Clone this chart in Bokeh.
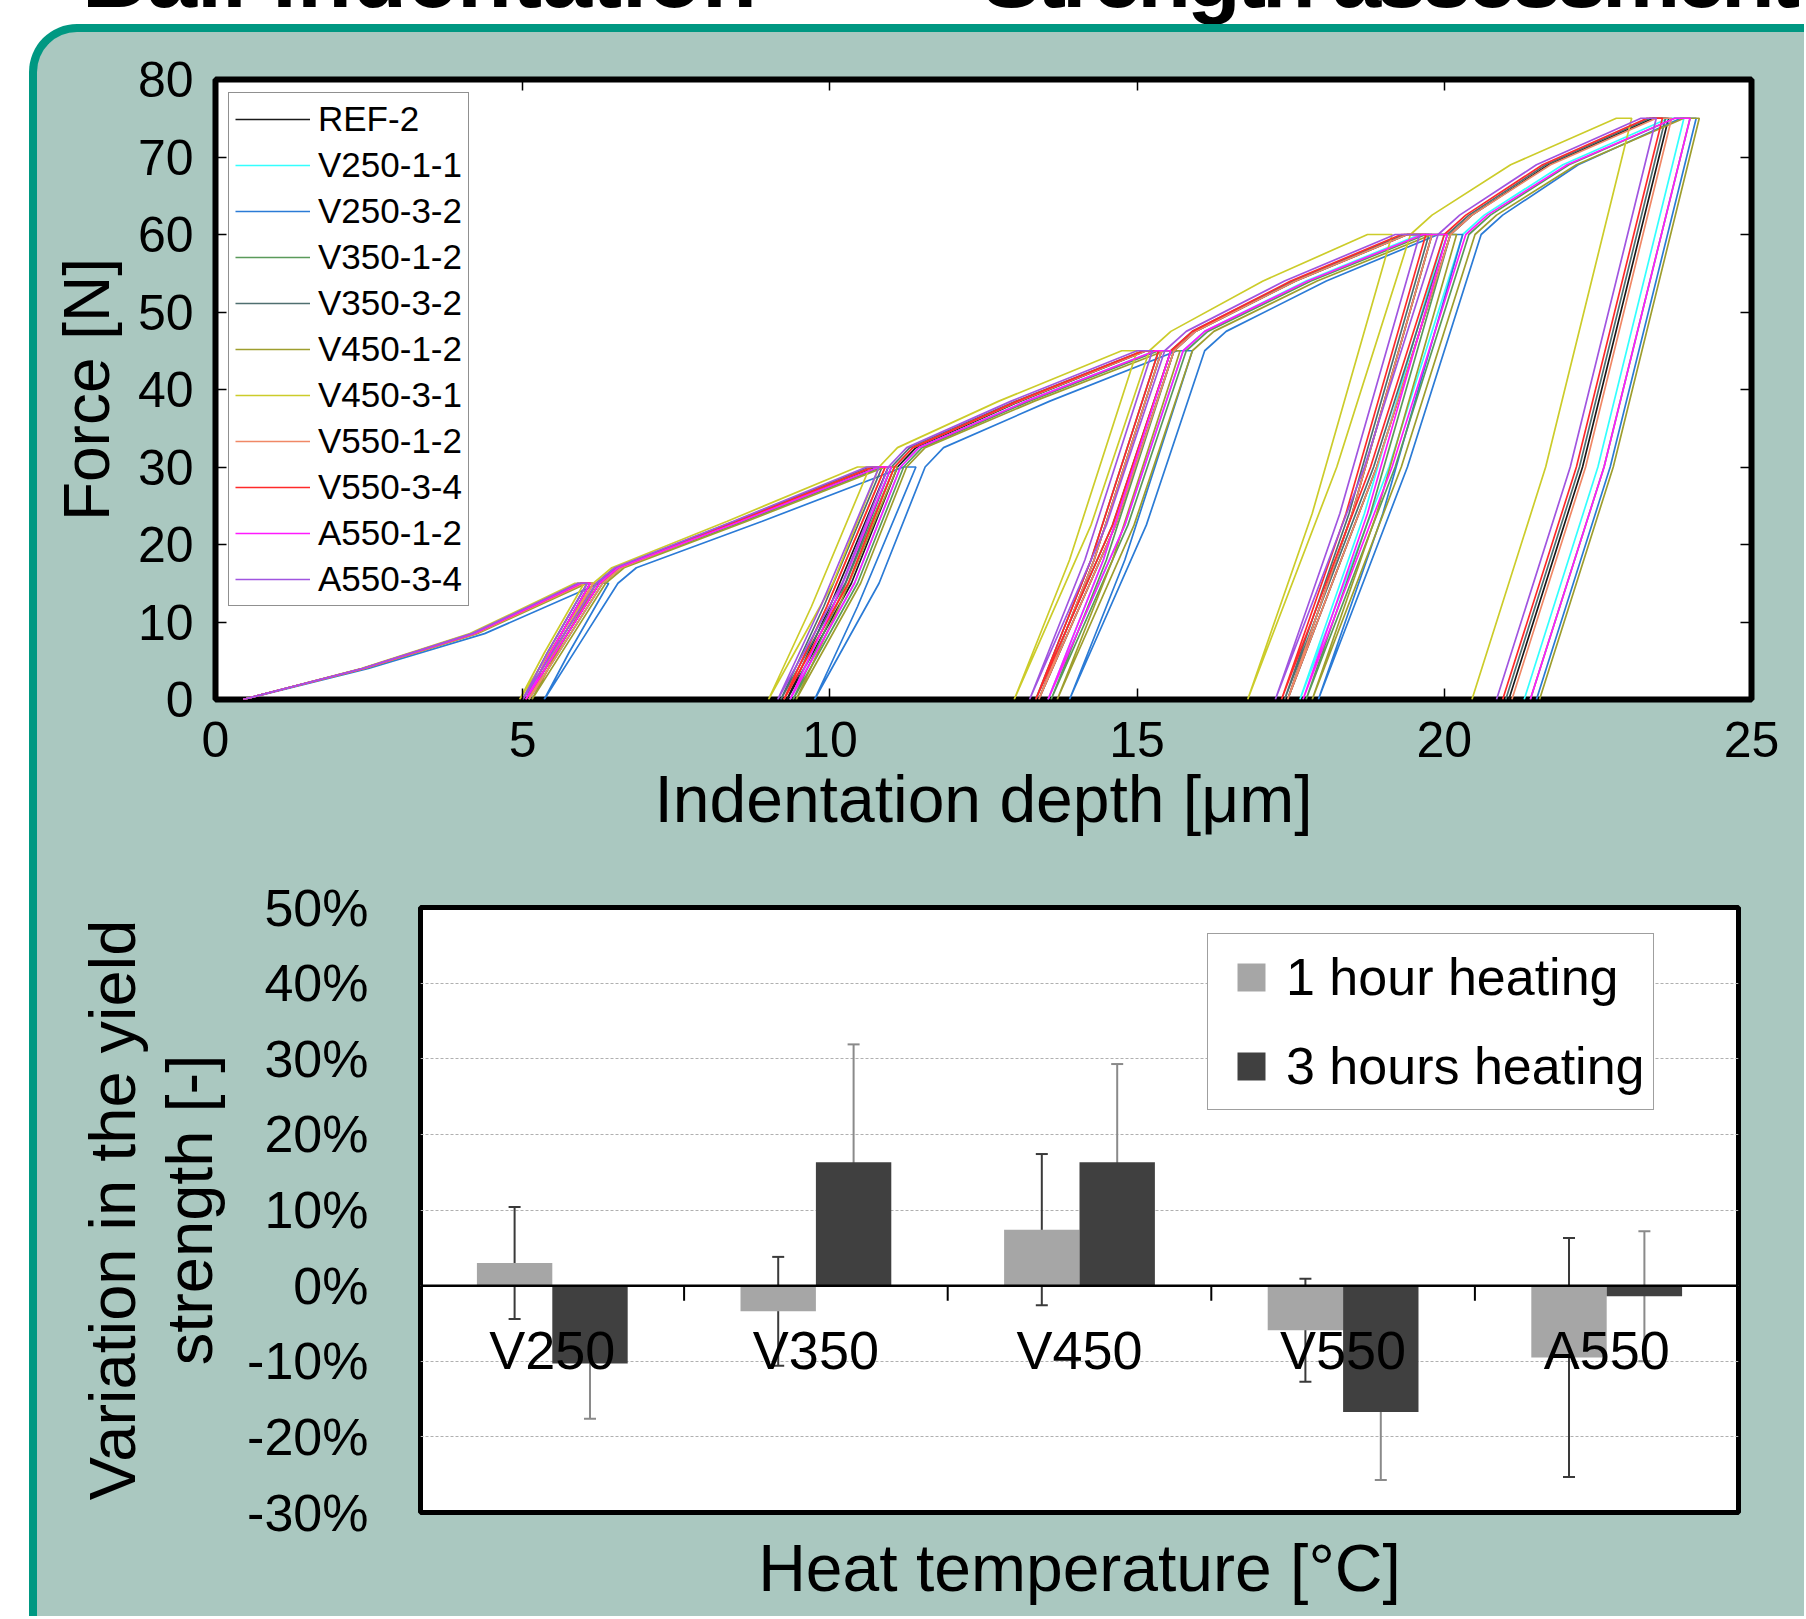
import numpy as np
from bokeh.plotting import figure
from bokeh.models import (ColumnDataSource, Range1d, LinearAxis, FactorRange, Legend, LegendItem,
                          FixedTicker, NumeralTickFormatter, Span, Whisker, TeeHead, Div)
from bokeh.layouts import column, row
from bokeh.transform import dodge
from bokeh.core.properties import value
from bokeh.embed import file_html
from bokeh.resources import INLINE

FONT = "Liberation Sans"
BG = "#AAC8C0"
TEAL = "#009882"

# ---------------- top chart data (ball indentation cycles) ----------------
SERIES = ["REF-2", "V250-1-1", "V250-3-2", "V350-1-2", "V350-3-2", "V450-1-2",
          "V450-3-1", "V550-1-2", "V550-3-4", "A550-1-2", "A550-3-4"]
COLORS = ["#1a1a1a", "#33ffff", "#2b7bd6", "#5a9a5a", "#4f6f70", "#9e9e2e",
          "#cccc2a", "#f08866", "#ff2a2a", "#ff1aff", "#a055e0"]

# force along the load / unload / reload path [N] (same sequence for every sample)
FORCE_N = [0, 4, 8.5, 15, 15, 6, 0, 7.5, 15,
           17, 23, 30, 30, 12, 0, 15, 30,
           32.5, 38.5, 45, 45, 18, 0, 22.5, 45,
           47.5, 54, 60, 60, 24, 0, 30, 60,
           62.5, 69, 75, 75, 30, 0]

# indentation depth along that path [um], one list per sample
X_REF_2 = [0.45, 2.4, 4.2, 5.95, 6.1, 5.45, 5.05, 5.65, 6.25,
           6.55, 8.53, 10.75, 10.95, 10.0, 9.3, 10.35, 11.1,
           11.4, 13.1, 15.15, 15.4, 14.3, 13.4, 14.65, 15.6,
           15.95, 17.58, 19.4, 19.8, 18.5, 17.45, 18.9, 20.1,
           20.45, 21.7, 23.4, 23.65, 22.25, 21.05]
X_V250_1_1 = [0.45, 2.42, 4.23, 6.0, 6.15, 5.5, 5.1, 5.7, 6.3,
              6.6, 8.58, 10.8, 11.0, 10.05, 9.35, 10.4, 11.15,
              11.45, 13.2, 15.3, 15.55, 14.45, 13.55, 14.8, 15.75,
              16.1, 17.75, 19.6, 20.0, 18.7, 17.65, 19.1, 20.3,
              20.65, 21.93, 23.65, 23.9, 22.5, 21.3]
X_V250_3_2 = [0.45, 2.49, 4.38, 6.25, 6.4, 5.75, 5.35, 5.95, 6.55,
              6.85, 8.9, 11.2, 11.4, 10.45, 9.75, 10.8, 11.55,
              11.85, 13.58, 15.65, 15.9, 14.8, 13.9, 15.15, 16.1,
              16.45, 18.08, 19.9, 20.3, 19.0, 17.95, 19.4, 20.6,
              20.95, 22.18, 23.85, 24.1, 22.7, 21.5]
X_V350_1_2 = [0.45, 2.42, 4.23, 6.0, 6.15, 5.5, 5.1, 5.7, 6.3,
              6.6, 8.6, 10.85, 11.05, 10.1, 9.4, 10.45, 11.2,
              11.5, 13.25, 15.35, 15.6, 14.5, 13.6, 14.85, 15.8,
              16.15, 17.83, 19.7, 20.1, 18.8, 17.75, 19.2, 20.4,
              20.75, 22.03, 23.75, 24.0, 22.6, 21.4]
X_V350_3_2 = [0.45, 2.39, 4.17, 5.9, 6.05, 5.4, 5.0, 5.6, 6.2,
              6.5, 8.45, 10.65, 10.85, 9.9, 9.2, 10.25, 11.0,
              11.3, 13.03, 15.1, 15.35, 14.25, 13.35, 14.6, 15.55,
              15.9, 17.53, 19.35, 19.75, 18.45, 17.4, 18.85, 20.05,
              20.4, 21.65, 23.35, 23.6, 22.2, 21.0]
X_V450_1_2 = [0.45, 2.43, 4.26, 6.05, 6.2, 5.55, 5.15, 5.75, 6.35,
              6.65, 8.65, 10.9, 11.1, 10.15, 9.45, 10.5, 11.25,
              11.55, 13.33, 15.45, 15.7, 14.6, 13.7, 14.95, 15.9,
              16.25, 17.93, 19.8, 20.2, 18.9, 17.85, 19.3, 20.5,
              20.85, 22.15, 23.9, 24.15, 22.75, 21.55]
X_V450_3_1 = [0.45, 2.37, 4.14, 5.85, 6.0, 5.35, 4.95, 5.55, 6.15,
              6.45, 8.33, 10.45, 10.65, 9.7, 9.0, 10.05, 10.8,
              11.1, 12.75, 14.75, 15.0, 13.9, 13.0, 14.25, 15.2,
              15.55, 17.05, 18.75, 19.15, 17.85, 16.8, 18.25, 19.45,
              19.8, 21.08, 22.8, 23.05, 21.65, 20.45]
X_V550_1_2 = [0.45, 2.42, 4.23, 6.0, 6.15, 5.5, 5.1, 5.7, 6.3,
              6.6, 8.53, 10.7, 10.9, 9.95, 9.25, 10.3, 11.05,
              11.35, 13.08, 15.15, 15.4, 14.3, 13.4, 14.65, 15.6,
              15.95, 17.58, 19.4, 19.8, 18.5, 17.45, 18.9, 20.1,
              20.45, 21.73, 23.45, 23.7, 22.3, 21.1]
X_V550_3_4 = [0.45, 2.4, 4.2, 5.95, 6.1, 5.45, 5.05, 5.65, 6.25,
              6.55, 8.5, 10.7, 10.9, 9.95, 9.25, 10.3, 11.05,
              11.35, 13.05, 15.1, 15.35, 14.25, 13.35, 14.6, 15.55,
              15.9, 17.5, 19.3, 19.7, 18.4, 17.35, 18.8, 20.0,
              20.35, 21.6, 23.3, 23.55, 22.15, 20.95]
X_A550_1_2 = [0.45, 2.4, 4.2, 5.95, 6.1, 5.45, 5.05, 5.65, 6.25,
              6.55, 8.55, 10.8, 11.0, 10.05, 9.35, 10.4, 11.15,
              11.45, 13.2, 15.3, 15.55, 14.45, 13.55, 14.8, 15.75,
              16.1, 17.78, 19.65, 20.05, 18.75, 17.7, 19.15, 20.35,
              20.7, 22.0, 23.75, 24.0, 22.6, 21.4]
X_A550_3_4 = [0.45, 2.39, 4.17, 5.9, 6.05, 5.4, 5.0, 5.6, 6.2,
              6.5, 8.43, 10.6, 10.8, 9.85, 9.15, 10.2, 10.95,
              11.25, 12.95, 15.0, 15.25, 14.15, 13.25, 14.5, 15.45,
              15.8, 17.4, 19.2, 19.6, 18.3, 17.25, 18.7, 19.9,
              20.25, 21.5, 23.2, 23.45, 22.05, 20.85]
DEPTHS = [X_REF_2, X_V250_1_1, X_V250_3_2, X_V350_1_2, X_V350_3_2, X_V450_1_2,
          X_V450_3_1, X_V550_1_2, X_V550_3_4, X_A550_1_2, X_A550_3_4]

X_TICKS = [0, 5, 10, 15, 20, 25]
Y_TICKS = [0, 10, 20, 30, 40, 50, 60, 70, 80]

# ---------------- bottom chart data (yield strength variation, %) ----------------
CATS = ["V250", "V350", "V450", "V550", "A550"]
H1 = [3.0, -3.4, 7.4, -5.9, -9.5]      # 1 hour heating
E1 = [7.4, 7.2, 10.0, 6.8, 15.8]
H3 = [-10.3, 16.3, 16.3, -16.7, -1.4]   # 3 hours heating
E3 = [7.3, 15.6, 13.0, 9.0, 8.6]
PCT_TICKS = [-30, -20, -10, 0, 10, 20, 30, 40, 50]


def tick_style(ax, ticks):
    ax.ticker = FixedTicker(ticks=ticks)
    ax.axis_line_color = None
    ax.major_tick_in = 11
    ax.major_tick_out = 0
    ax.major_tick_line_color = "black"
    ax.major_tick_line_width = 1.5
    ax.minor_tick_line_color = None


def hide_labels(ax, ticks):
    ax.major_label_overrides = {t: "" for t in ticks}
    ax.major_label_text_color = None
    ax.major_label_text_font_size = "1px"
    ax.major_label_standoff = 0


# ================= top figure =================
top = figure(frame_width=1536, frame_height=620,
             x_range=Range1d(0, 25), y_range=Range1d(0, 80),
             min_border_left=178, min_border_right=53, min_border_top=47, min_border_bottom=163,
             output_backend="svg", toolbar_location=None,
             background_fill_color="white", border_fill_color=None,
             outline_line_color="black", outline_line_width=6)
top.grid.visible = False

for ax, ticks in ((top.xaxis[0], X_TICKS), (top.yaxis[0], Y_TICKS)):
    tick_style(ax, ticks)
    ax.major_label_text_font = FONT
    ax.major_label_text_font_size = "50px"
    ax.major_label_text_color = "black"
    ax.axis_label_text_font = FONT
    ax.axis_label_text_font_style = "normal"
    ax.axis_label_text_color = "black"

top.xaxis.axis_label = "Indentation depth [μm]"
top.xaxis.axis_label_text_font_size = "66px"
top.xaxis.major_label_standoff = 22
top.xaxis.axis_label_standoff = 2
top.yaxis.axis_label = "Force [N]"
top.yaxis.axis_label_text_font_size = "64px"
top.yaxis.major_label_standoff = 22
top.yaxis.axis_label_standoff = 12

ax_top = LinearAxis()
tick_style(ax_top, X_TICKS)
hide_labels(ax_top, X_TICKS)
top.add_layout(ax_top, "above")
ax_right = LinearAxis()
tick_style(ax_right, Y_TICKS)
hide_labels(ax_right, Y_TICKS)
top.add_layout(ax_right, "right")

items = []
for name, col, xs in zip(SERIES, COLORS, DEPTHS):
    r = top.line(x=xs, y=FORCE_N, line_color=col, line_width=1.7)
    items.append(LegendItem(label=name, renderers=[r]))

leg = Legend(items=items, location="top_left", margin=13, padding=6, spacing=6,
             glyph_width=75, glyph_height=40, label_height=40, label_standoff=8,
             label_text_font=FONT, label_text_font_size="35px", label_text_color="black",
             border_line_color="#222222", border_line_width=1.5,
             background_fill_color="white", background_fill_alpha=1)
top.add_layout(leg)

# ================= bottom figure =================
src = ColumnDataSource(dict(
    cat=CATS,
    h1=[v / 100 for v in H1],
    h3=[v / 100 for v in H3],
    u1=[(v + e) / 100 for v, e in zip(H1, E1)],
    l1=[(v - e) / 100 for v, e in zip(H1, E1)],
    u3=[(v + e) / 100 for v, e in zip(H3, E3)],
    l3=[(v - e) / 100 for v, e in zip(H3, E3)],
))

bot = figure(frame_width=1318, frame_height=605,
             x_range=FactorRange(factors=CATS), y_range=Range1d(-0.30, 0.50),
             min_border_left=383, min_border_right=66, min_border_top=45, min_border_bottom=104,
             output_backend="svg", toolbar_location=None,
             background_fill_color="white", border_fill_color=None,
             outline_line_color="black", outline_line_width=5)
bot.xgrid.visible = False
bot.ygrid.ticker = FixedTicker(ticks=[t / 100 for t in PCT_TICKS])
bot.ygrid.grid_line_color = "#b0b0b0"
bot.ygrid.grid_line_dash = "3 2"
bot.ygrid.grid_line_width = 1

ya = bot.yaxis[0]
ya.ticker = FixedTicker(ticks=[t / 100 for t in PCT_TICKS])
ya.formatter = NumeralTickFormatter(format="0%")
ya.axis_line_color = None
ya.major_tick_line_color = None
ya.minor_tick_line_color = None
ya.major_label_text_font = FONT
ya.major_label_text_font_size = "52px"
ya.major_label_text_color = "black"
ya.major_label_standoff = 46
ya.axis_label = "Variation in the yield\nstrength [-]"
ya.axis_label_text_font = FONT
ya.axis_label_text_font_size = "65px"
ya.axis_label_text_font_style = "normal"
ya.axis_label_text_line_height = 1.05
ya.axis_label_text_color = "black"
ya.axis_label_standoff = 18

xa = bot.xaxis[0]
xa.axis_line_color = None
xa.major_tick_line_color = None
xa.minor_tick_line_color = None
xa.major_label_text_color = None
xa.major_label_text_font_size = "1px"
xa.major_label_standoff = 0
xa.axis_label = "Heat temperature [°C]"
xa.axis_label_text_font = FONT
xa.axis_label_text_font_size = "66px"
xa.axis_label_text_font_style = "normal"
xa.axis_label_text_color = "black"
xa.axis_label_standoff = 12

W = 0.286
bot.vbar(x=dodge("cat", -W / 2, range=bot.x_range), top="h1", width=W, source=src,
         fill_color="#A6A6A6", line_color=None)
bot.vbar(x=dodge("cat", W / 2, range=bot.x_range), top="h3", width=W, source=src,
         fill_color="#404040", line_color=None)

bot.add_layout(Span(location=0, dimension="width", line_color="black", line_width=2.5))
# category boundaries in the factor range's synthetic coordinates (1, 2, 3, 4)
BOUNDS = [float(i) for i in range(1, len(CATS))]
bot.ray(x=BOUNDS, y=[0.0] * len(BOUNDS), length=15, length_units="screen", angle=-np.pi / 2,
        line_color="black", line_width=2)

bot.text(x="cat", y=0, text="cat", source=src, text_font=value(FONT), text_font_size="54px",
         text_align="center", text_baseline="top", y_offset=34, text_color="black")

for off, up, lo, col in ((-W / 2, "u1", "l1", "#3a3a3a"), (W / 2, "u3", "l3", "#8a8a8a")):
    bot.add_layout(Whisker(source=src, base=dodge("cat", off, range=bot.x_range),
                           upper=up, lower=lo, line_color=col, line_width=2,
                           upper_head=TeeHead(size=12, line_color=col, line_width=2),
                           lower_head=TeeHead(size=12, line_color=col, line_width=2)))

s1 = bot.scatter(x="cat", y="h1", source=src, marker="square", size=28,
                 fill_color="#A6A6A6", line_color=None, visible=False)
s3 = bot.scatter(x="cat", y="h3", source=src, marker="square", size=28,
                 fill_color="#404040", line_color=None, visible=False)
leg2 = Legend(items=[LegendItem(label="1 hour heating", renderers=[s1]),
                     LegendItem(label="3 hours heating", renderers=[s3])],
              location=(787, 402), margin=0, padding=8, spacing=19,
              glyph_width=70, glyph_height=70, label_standoff=0,
              label_text_font=FONT, label_text_font_size="52px", label_text_color="black",
              border_line_color="#404040", border_line_width=1.5,
              background_fill_color="white", background_fill_alpha=1)
bot.add_layout(leg2)

# ================= page =================
title = Div(text=('<div style="position:relative; top:-74px; left:77px; white-space:nowrap; '
                  'font-family:\'Liberation Sans\'; font-weight:bold; font-size:90px; '
                  'line-height:90px; color:black;">Ball indentation –'
                  '<span style="margin-left:150px; font-size:88px; letter-spacing:-4px;">'
                  'Strength assessment</span></div>'),
            width=1790, height=14, styles={"overflow": "visible"})

box = column(row(top), row(bot), margin=(0, 0, -8, 29),
             styles={"background-color": BG,
                     "border-left": f"8px solid {TEAL}",
                     "border-top": f"8px solid {TEAL}",
                     "border-top-left-radius": "48px",
                     "box-sizing": "content-box",
                     "overflow": "hidden"})

page = column(title, box)

open("out.html", "w").write(file_html(page, INLINE, title="Ball indentation"))
